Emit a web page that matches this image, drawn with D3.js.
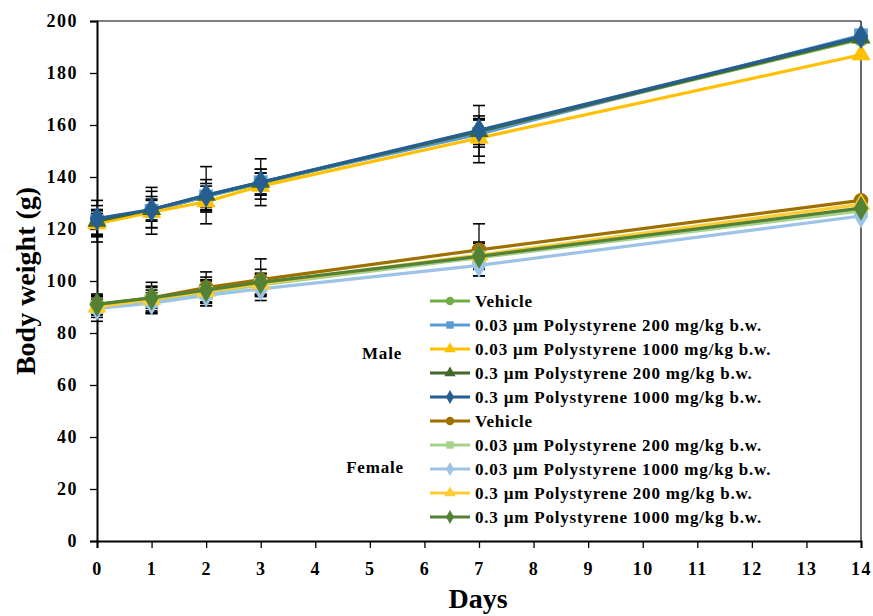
<!DOCTYPE html>
<html><head><meta charset="utf-8">
<script src="https://cdn.jsdelivr.net/npm/d3@7"></script>
<style>body{margin:0;background:#fff}svg{display:block}text{font-family:"Liberation Serif","Times New Roman",serif;font-weight:bold}</style>
</head><body><svg id="c" width="873" height="616"></svg>
<script>
const days = [0, 1, 2, 3, 7, 14];
const xTicks = d3.range(0, 15);
const yTicks = d3.range(0, 201, 20);
const seriesNames = [
  "Vehicle",
  "0.03 µm Polystyrene 200 mg/kg b.w.",
  "0.03 µm Polystyrene 1000 mg/kg b.w.",
  "0.3 µm Polystyrene 200 mg/kg b.w.",
  "0.3 µm Polystyrene 1000 mg/kg b.w.",
  "Vehicle",
  "0.03 µm Polystyrene 200 mg/kg b.w.",
  "0.03 µm Polystyrene 1000 mg/kg b.w.",
  "0.3 µm Polystyrene 200 mg/kg b.w.",
  "0.3 µm Polystyrene 1000 mg/kg b.w."
];
const groups = ["Male","Male","Male","Male","Male","Female","Female","Female","Female","Female"];
const maleVehicle   = [122.5, 127, 132.5, 137.5, 157.5, 193];
const male003_200   = [123, 127, 132.5, 138, 156.5, 194.5];
const male003_1000  = [122, 126.5, 130.5, 136.5, 155, 187];
const male03_200    = [123, 127.5, 133, 138, 157.5, 193.5];
const male03_1000   = [124, 127.5, 133, 138, 158, 194];
const femaleVehicle  = [91, 93.5, 97.5, 100.5, 112, 131];
const female003_200  = [90, 92.5, 95.5, 98.5, 109, 127];
const female003_1000 = [89.5, 91.5, 94.5, 97, 106, 125];
const female03_200   = [90, 93, 96, 99, 110, 129.5];
const female03_1000  = [91, 93.5, 96.5, 99.5, 109.5, 128];
const sdMaleVehicle   = [5, 4, 5, 4, 6, 0];
const sdMale003_200   = [8, 9, 4, 5, 11, 0];
const sdMale003_1000  = [4, 6, 4, 5, 7, 0];
const sdMale03_200    = [6, 7, 11, 9, 5, 0];
const sdMale03_1000   = [3, 4, 6, 5, 4, 0];
const sdFemaleVehicle  = [4, 6, 6, 8, 10, 0];
const sdFemale003_200  = [3, 4, 5, 4, 4, 0];
const sdFemale003_1000 = [5, 4, 4, 3, 4, 0];
const sdFemale03_200   = [4, 5, 4, 4, 5, 0];
const sdFemale03_1000  = [3, 4, 5, 5, 5, 0];

const values = [maleVehicle, male003_200, male003_1000, male03_200, male03_1000,
  femaleVehicle, female003_200, female003_1000, female03_200, female03_1000];
const sds = [sdMaleVehicle, sdMale003_200, sdMale003_1000, sdMale03_200, sdMale03_1000,
  sdFemaleVehicle, sdFemale003_200, sdFemale003_1000, sdFemale03_200, sdFemale03_1000];
const colors = ["#70AD47","#5B9BD5","#FFC000","#43682B","#255E91",
  "#9E7000","#A9D18E","#9DC3E6","#FFCD33","#548235"];
const shapes = ["circle","square","triangle","triangle","diamond",
  "circle","square","diamond","triangle","diamond"];

const svg = d3.select("#c");
const L = 97, R = 861, T = 21, B = 541;
const x = d3.scaleLinear().domain([0, 14]).range([L, R]);
const y = d3.scaleLinear().domain([0, 200]).range([B, T]);

const symType = {circle: d3.symbolCircle, square: d3.symbolSquare, triangle: d3.symbolTriangle, diamond: d3.symbolDiamond};
function sym(shape, size) {
  return d3.symbol().type(symType[shape]).size(size)();
}

// frame
svg.append("line").attr("x1", L).attr("x2", R).attr("y1", T).attr("y2", T).attr("stroke", "#000").attr("stroke-width", 1.2);
svg.append("line").attr("x1", R).attr("x2", R).attr("y1", T).attr("y2", B).attr("stroke", "#000").attr("stroke-width", 1.2);

// axes
const gy = svg.append("g").attr("transform", `translate(${L},0)`)
  .call(d3.axisLeft(y).tickValues(yTicks).tickSize(7).tickPadding(12));
const gx = svg.append("g").attr("transform", `translate(0,${B})`)
  .call(d3.axisBottom(x).tickValues(xTicks).tickSize(7).tickPadding(14));
[gy, gx].forEach(g => {
  g.select(".domain").attr("stroke", "#000").attr("stroke-width", 2);
  g.selectAll(".tick line").attr("stroke", "#000").attr("stroke-width", 1.3);
  g.selectAll("text").attr("fill", "#000").style("font-size", "18px").style("letter-spacing", "1.5px")
    .style("font-family", '"Liberation Serif", serif').style("font-weight", "bold");
});

svg.append("text").attr("transform", "translate(35,281) rotate(-90)").attr("text-anchor", "middle")
  .style("font-size", "28px").text("Body weight (g)");
svg.append("text").attr("x", 478).attr("y", 608).attr("text-anchor", "middle")
  .style("font-size", "28px").text("Days");

// error bars
const eb = svg.append("g");
values.forEach((vals, i) => {
  vals.forEach((v, j) => {
    const sd = sds[i][j];
    if (!sd) return;
    const cx = x(days[j]);
    eb.append("line").attr("x1", cx).attr("x2", cx).attr("y1", y(v + sd)).attr("y2", y(v - sd)).attr("stroke", "#000").attr("stroke-width", 1.3);
    [v + sd, v - sd].forEach(e => eb.append("line").attr("x1", cx - 6).attr("x2", cx + 6).attr("y1", y(e)).attr("y2", y(e)).attr("stroke", "#000").attr("stroke-width", 1.6));
  });
});

// series
const line = d3.line().x((d, j) => x(days[j])).y(d => y(d));
values.forEach((vals, i) => {
  const g = svg.append("g");
  g.append("path").attr("d", line(vals)).attr("fill", "none").attr("stroke", colors[i]).attr("stroke-width", 3.2);
  const size = shapes[i] === "diamond" ? 180 : shapes[i] === "triangle" ? 160 : shapes[i] === "square" ? 190 : 170;
  vals.forEach((v, j) => {
    g.append("path").attr("d", sym(shapes[i], size))
      .attr("transform", `translate(${x(days[j])},${y(v)})`).attr("fill", colors[i]);
  });
});

// legend
const lg = svg.append("g");
const lx0 = 430, lx1 = 470, ly0 = 301, ldy = 24;
seriesNames.forEach((name, i) => {
  const yy = ly0 + i * ldy;
  lg.append("line").attr("x1", lx0).attr("x2", lx1).attr("y1", yy).attr("y2", yy).attr("stroke", colors[i]).attr("stroke-width", 3);
  lg.append("path").attr("d", sym(shapes[i], 55)).attr("transform", `translate(${(lx0 + lx1) / 2},${yy})`).attr("fill", colors[i]);
  lg.append("text").attr("x", 475).attr("y", yy + 6).style("font-size", "17px").style("letter-spacing", "0.8px").text(name);
});
lg.append("text").attr("x", 382).attr("y", 359).attr("text-anchor", "middle").style("font-size", "17px").style("letter-spacing", "0.8px").text("Male");
lg.append("text").attr("x", 375).attr("y", 473).attr("text-anchor", "middle").style("font-size", "17px").style("letter-spacing", "0.8px").text("Female");
</script></body></html>
